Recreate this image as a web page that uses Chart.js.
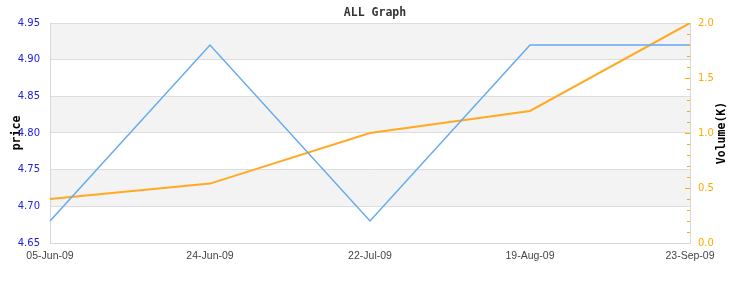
<!DOCTYPE html>
<html lang="en">
<head>
  <meta charset="UTF-8">
  <title>ALL Graph</title>
  <script src="https://cdn.jsdelivr.net/npm/chart.js"></script>
  <style>
    body { margin: 0; padding: 0; background: #ffffff; }
    .wrap { position: relative; width: 750px; height: 293px; }
  </style>
</head>
<body>
  <div class="wrap"><canvas id="allGraph"></canvas></div>

  <script>
    const dates = ['05-Jun-09', '24-Jun-09', '22-Jul-09', '19-Aug-09', '23-Sep-09'];
    const price = [4.68, 4.92, 4.68, 4.92, 4.92];
    const volume = [0.4, 0.54, 1.0, 1.2, 2.0];
    const priceRange = [4.65, 4.95, 0.05];
    const volumeRange = [0, 2, 0.1];

    const monoBold = { family: "'DejaVu Sans Mono', monospace", size: 11.5, weight: 'bold' };

    // gray stripes between every other price gridline
    const bands = {
      id: 'bands',
      beforeDraw(chart) {
        const { ctx, chartArea, scales } = chart;
        const ticks = scales.y.ticks;
        ctx.save();
        ctx.fillStyle = '#f3f3f3';
        for (let i = ticks.length - 1; i > 0; i -= 2) {
          const top = scales.y.getPixelForValue(ticks[i].value);
          const bottom = scales.y.getPixelForValue(ticks[i - 1].value);
          ctx.fillRect(chartArea.left, top, chartArea.right - chartArea.left, bottom - top);
        }
        ctx.restore();
      }
    };

    // small inward tick marks on the volume axis + its title
    const volumeAxis = {
      id: 'volumeAxis',
      afterDraw(chart) {
        const { ctx, chartArea, scales } = chart;
        const y1 = scales.y1;
        ctx.save();
        ctx.strokeStyle = '#ffaa00';
        ctx.lineWidth = 1;
        y1.ticks.forEach(t => {
          if (t.value <= volumeRange[0] || t.value >= volumeRange[1]) return;
          const py = Math.round(y1.getPixelForValue(t.value)) + 0.5;
          const len = t.label ? 5 : 3;
          ctx.beginPath();
          ctx.moveTo(chartArea.right - len, py);
          ctx.lineTo(chartArea.right, py);
          ctx.stroke();
        });
        ctx.fillStyle = '#000000';
        ctx.font = `bold ${monoBold.size}px ${monoBold.family}`;
        ctx.textAlign = 'center';
        ctx.textBaseline = 'middle';
        ctx.translate(722, (chartArea.top + chartArea.bottom) / 2);
        ctx.rotate(-Math.PI / 2);
        ctx.fillText('Volume(K)', 0, 0);
        ctx.restore();
      }
    };

    new Chart(document.getElementById('allGraph'), {
      type: 'line',
      data: {
        labels: dates,
        datasets: [
          {
            label: 'price',
            data: price,
            yAxisID: 'y',
            borderColor: '#66aaee',
            borderWidth: 1.5,
            pointRadius: 0,
            tension: 0
          },
          {
            label: 'Volume(K)',
            data: volume,
            yAxisID: 'y1',
            borderColor: '#ffaa22',
            borderWidth: 2,
            pointRadius: 0,
            tension: 0
          }
        ]
      },
      options: {
        responsive: true,
        maintainAspectRatio: false,
        animation: false,
        layout: { padding: 0 },
        plugins: {
          legend: { display: false },
          tooltip: { enabled: false },
          title: {
            display: true,
            text: 'ALL Graph',
            color: '#333333',
            font: monoBold,
            padding: { top: 6, bottom: 3.2 }
          }
        },
        scales: {
          x: {
            offset: false,
            grid: { display: false, drawTicks: false },
            border: { display: true, color: '#d8d8d8' },
            ticks: {
              color: '#444444',
              font: { family: "'Liberation Sans Narrow', 'Liberation Sans', sans-serif", size: 10.5 },
              padding: 7,
              maxRotation: 0,
              autoSkip: false
            },
            afterFit(scale) { scale.height = 50; }
          },
          y: {
            position: 'left',
            min: priceRange[0],
            max: priceRange[1],
            grid: { color: '#dddddd', drawTicks: false },
            border: { display: true, color: '#d8d8d8' },
            ticks: {
              stepSize: priceRange[2],
              color: '#2020e0',
              font: { family: "'DejaVu Sans', sans-serif", size: 10 },
              padding: 10,
              callback: v => v.toFixed(2)
            },
            title: {
              display: true,
              text: 'price',
              color: '#000000',
              font: monoBold,
              padding: { top: 10, bottom: 0 }
            },
            afterFit(scale) { scale.width = 50; }
          },
          y1: {
            position: 'right',
            min: volumeRange[0],
            max: volumeRange[1],
            grid: { drawOnChartArea: false, drawTicks: false },
            border: { display: true, color: '#d8d8d8' },
            ticks: {
              stepSize: volumeRange[2],
              color: '#ffaa00',
              font: { family: "'DejaVu Sans', sans-serif", size: 10 },
              padding: 8,
              autoSkip: false,
              callback: v => (Math.abs(v * 2 - Math.round(v * 2)) < 1e-6 ? v.toFixed(1) : '')
            },
            afterFit(scale) { scale.width = 60; }
          }
        }
      },
      plugins: [bands, volumeAxis]
    });
  </script>
</body>
</html>
